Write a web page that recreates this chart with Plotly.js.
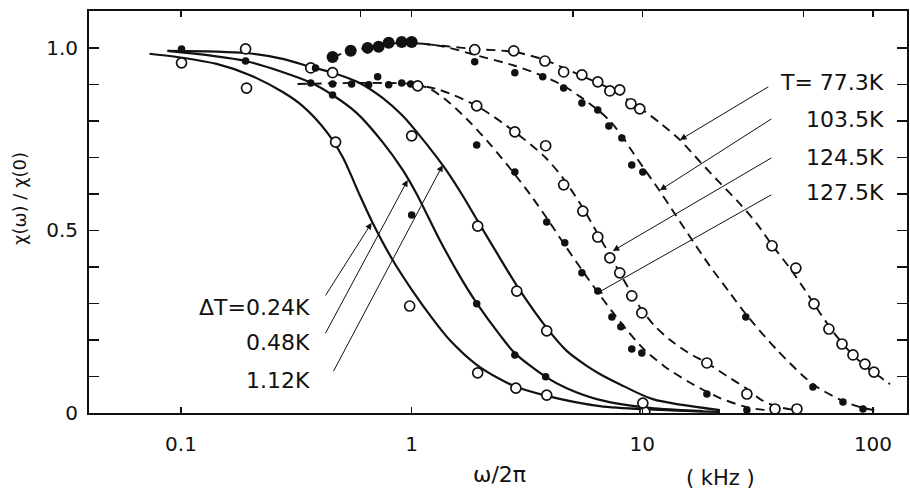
<!DOCTYPE html>
<html><head><meta charset="utf-8">
<script src="https://cdn.plot.ly/plotly-3.0.1.min.js"></script>
<style>html,body{margin:0;padding:0;background:#fff}</style>
</head><body><div id="chart" style="width:910px;height:491px"></div>
<script>
// ---- fitted curves (solid), ΔT series ----
const fit024_x = [0.073,0.1015,0.1426,0.198,0.276,0.336,0.428,0.502,0.595,0.671,0.827,1.01,1.233,1.462,1.914,2.41,2.855,3.85,6.54,21.7];
const fit024_y = [0.984,0.973,0.956,0.926,0.879,0.841,0.770,0.701,0.597,0.526,0.419,0.334,0.258,0.200,0.132,0.093,0.071,0.047,0.019,0.003];
const fit048_x = [0.0874,0.1905,0.368,0.454,0.577,0.748,0.914,1.051,1.323,1.616,1.914,2.41,2.80,3.81,4.70,6.54,10.78,18.3];
const fit048_y = [0.992,0.964,0.904,0.871,0.822,0.742,0.666,0.600,0.474,0.375,0.301,0.214,0.164,0.099,0.068,0.036,0.014,0.005];
const fit112_x = [0.0874,0.1905,0.2757,0.365,0.454,0.595,0.748,0.914,1.051,1.284,1.419,1.665,1.933,2.41,2.855,3.85,4.70,5.74,6.54,7.98,11.1,21.7];
const fit112_y = [0.992,0.986,0.970,0.948,0.932,0.904,0.863,0.814,0.770,0.701,0.663,0.595,0.526,0.425,0.349,0.233,0.170,0.129,0.107,0.079,0.038,0.008];
// ---- fitted curves (dashed), T series ----
const fit1275_x = [0.320,1.0,1.197,1.462,1.785,2.180,2.662,3.25,3.85,4.61,5.47,6.35,7.38,8.57,10.15,12.40,15.91,21.7,29.3,39.5];
const fit1275_y = [0.901,0.901,0.888,0.849,0.797,0.737,0.671,0.600,0.534,0.460,0.392,0.334,0.279,0.227,0.175,0.129,0.085,0.041,0.014,0.005];
const fit1245_x = [1.0,1.323,1.914,2.80,3.81,4.52,5.52,6.41,7.23,7.98,9.00,9.95,11.33,13.2,15.91,19.05,23.3,28.4,32.4,37.6,45.9];
const fit1245_y = [0.901,0.885,0.841,0.770,0.699,0.644,0.562,0.490,0.433,0.384,0.326,0.282,0.238,0.200,0.164,0.137,0.101,0.066,0.038,0.019,0.008];
const fit1035_x = [0.454,0.544,0.644,0.795,1.0,1.39,1.876,2.80,3.70,4.56,5.47,6.41,7.23,8.15,9.00,10.05,11.9,13.4,15.8,19.6,23.96,28.1,38.3,54.9,74.1,90.5,107.2];
const fit1035_y = [0.975,0.992,1.000,1.011,1.014,1.003,0.981,0.951,0.923,0.896,0.863,0.830,0.800,0.759,0.718,0.674,0.608,0.559,0.490,0.403,0.329,0.271,0.173,0.079,0.033,0.014,0.005];
const fit773_x = [1.0,1.39,1.876,2.77,3.78,4.56,5.47,6.41,7.60,8.92,9.75,11.9,14.55,17.8,21.7,26.5,31.4,36.5,43.6,50.7,58.9,68.4,79.5,92.3,107.2,118.5];
const fit773_y = [1.014,1.005,0.997,0.989,0.967,0.945,0.923,0.904,0.882,0.852,0.836,0.795,0.748,0.688,0.630,0.573,0.518,0.460,0.397,0.337,0.274,0.216,0.167,0.129,0.099,0.079];
// ---- measured points ----
const pt024_x = [0.1005,0.1923,0.468,0.980,1.933,2.83,3.85,10.25];
const pt024_y = [0.959,0.890,0.742,0.293,0.110,0.068,0.049,0.003];
const pt048_x = [0.1005,0.1905,0.365,0.454,1.0,1.914,2.80,3.81];
const pt048_y = [0.997,0.964,0.904,0.871,0.542,0.299,0.159,0.099];
const pt112_x = [0.1905,0.365,0.454,1.0,1.933,2.855,3.85,10.05];
const pt112_y = [0.997,0.945,0.932,0.759,0.512,0.334,0.225,0.027];
const pt1275_x = [0.383,0.454,0.549,0.651,0.712,0.795,0.905,0.99,1.914,2.80,3.85,4.61,5.47,6.41,7.38,8.07,9.00,9.95,19.05,28.4];
const pt1275_y = [0.945,0.901,0.901,0.899,0.921,0.899,0.904,0.901,0.734,0.660,0.523,0.466,0.384,0.334,0.263,0.236,0.175,0.164,0.052,0.008];
const pt1245_x = [1.062,1.914,2.80,3.81,4.56,5.52,6.41,7.23,7.98,9.00,9.95,19.05,28.4,37.6,46.8];
const pt1245_y = [0.896,0.841,0.770,0.732,0.625,0.553,0.482,0.425,0.384,0.321,0.274,0.137,0.052,0.011,0.011];
const pt1035_x = [1.876,2.80,3.70,4.56,5.47,6.41,7.16,8.15,9.00,10.05,28.1,54.9,74.1,90.5];
const pt1035_y = [0.962,0.932,0.921,0.890,0.849,0.830,0.786,0.753,0.679,0.660,0.263,0.071,0.030,0.011];
const pt773_x = [1.876,2.77,3.78,4.56,5.47,6.41,7.23,7.98,8.92,9.75,36.5,46.3,55.5,64.4,73.4,81.9,92.3,101];
const pt773_y = [0.995,0.992,0.964,0.934,0.926,0.907,0.882,0.885,0.847,0.833,0.458,0.397,0.299,0.230,0.189,0.159,0.134,0.112];
const ptLow_x = [0.454,0.544,0.644,0.719,0.795,0.905,1.0];
const ptLow_y = [0.975,0.992,1.000,1.003,1.014,1.016,1.016];
// ---- tick labels ----
const xTickVals = [0.1,1,10,100];
const xTickText = ["0.1","1","10","100"];
const xTopTickVals = [0.1,0.6,1,5,10,50,100];
const yTickVals = [0,0.1,0.2,0.3,0.4,0.5,0.6,0.7,0.8,0.9,1.0];
const yTickText = ["0","","","","","0.5","","","","","1.0"];
const tLabels = ["T= 77.3K","103.5K","124.5K","127.5K"];
const dLabels = ["ΔT=0.24K","0.48K","1.12K"];

const FONT = "DejaVu Sans, sans-serif";
const ink = "#111";
function solid(x,y){return {x:x,y:y,mode:"lines",type:"scatter",line:{color:ink,width:2.2,shape:"spline",smoothing:0.8},hoverinfo:"skip"};}
function dashed(x,y){return {x:x,y:y,mode:"lines",type:"scatter",line:{color:ink,width:1.9,dash:"9px,6px",shape:"spline",smoothing:0.8},hoverinfo:"skip"};}
function openPts(x,y){return {x:x,y:y,mode:"markers",type:"scatter",marker:{symbol:"circle",size:10,color:"#fff",line:{color:ink,width:1.7}},hoverinfo:"skip"};}
function filledPts(x,y,s){return {x:x,y:y,mode:"markers",type:"scatter",marker:{symbol:"circle",size:s||7.5,color:ink,line:{width:0}},hoverinfo:"skip"};}

const traces = [
  solid(fit024_x,fit024_y), solid(fit048_x,fit048_y), solid(fit112_x,fit112_y),
  dashed(fit1275_x,fit1275_y), dashed(fit1245_x,fit1245_y), dashed(fit1035_x,fit1035_y), dashed(fit773_x,fit773_y),
  openPts(pt024_x,pt024_y), filledPts(pt048_x,pt048_y), openPts(pt112_x,pt112_y),
  filledPts(pt1275_x,pt1275_y), openPts(pt1245_x,pt1245_y), filledPts(pt1035_x,pt1035_y), openPts(pt773_x,pt773_y),
  filledPts(ptLow_x,ptLow_y,12),
  {x:[1],y:[null],xaxis:"x2",mode:"markers",type:"scatter",hoverinfo:"skip"}
];

const annFont = {family:FONT,size:22,color:ink};
function arrow(x,y,ax,ay){return {x:x,y:y,ax:ax,ay:ay,xref:"x",yref:"y",axref:"x",ayref:"y",text:"",showarrow:true,arrowhead:2,arrowsize:1.3,arrowwidth:1,arrowcolor:ink};}
function label(t,x,y,anchor){return {x:x,y:y,xref:"x",yref:"y",text:t,showarrow:false,xanchor:anchor,yanchor:"middle",font:annFont};}

const annotations = [
  arrow(1.163,0.748,1.553,0.896),
  arrow(1.076,0.610,1.566,0.808),
  arrow(0.872,0.444,1.566,0.701),
  arrow(0.798,0.326,1.566,0.600),
  arrow(-0.1735,0.521,-0.3774,0.318),
  arrow(-0.0174,0.638,-0.3774,0.214),
  arrow(0.1345,0.679,-0.3427,0.110),
  label(tLabels[0],2.056,0.904,"right"),
  label(tLabels[1],2.056,0.805,"right"),
  label(tLabels[2],2.056,0.701,"right"),
  label(tLabels[3],2.056,0.605,"right"),
  label(dLabels[0],-0.4338,0.288,"right"),
  label(dLabels[1],-0.4338,0.192,"right"),
  label(dLabels[2],-0.4338,0.090,"right"),
  {x:0.5024,y:-0.154,xref:"paper",yref:"paper",text:"ω/2π",showarrow:false,font:annFont,yanchor:"middle"},
  {x:0.8166,y:-0.162,xref:"paper",yref:"paper",text:"( kHz )",showarrow:false,font:{family:FONT,size:21,color:ink},yanchor:"middle"},
  {x:-0.0844,y:0.535,xref:"paper",yref:"paper",text:"χ(ω) / χ(0)",textangle:-90,showarrow:false,xanchor:"center",yanchor:"middle",font:{family:FONT,size:18,color:ink}}
];

const layout = {
  width:910,height:491,
  margin:{l:89,r:3,t:11,b:78},
  paper_bgcolor:"#fff",plot_bgcolor:"#fff",
  showlegend:false,
  font:{family:FONT,color:ink},
  xaxis:{type:"log",range:[-1.399,2.1475],tickvals:xTickVals,ticktext:xTickText,ticks:"inside",ticklen:6,tickwidth:1.5,tickcolor:ink,
         showline:true,linewidth:2,linecolor:ink,mirror:true,showgrid:false,zeroline:false,tickfont:{family:FONT,size:20,color:ink},ticklabelstandoff:12},
  xaxis2:{type:"log",range:[-1.399,2.1475],overlaying:"x",side:"top",anchor:"y",tickvals:xTopTickVals,ticks:"inside",ticklen:6,tickwidth:1.5,tickcolor:ink,
          showticklabels:false,showline:false,showgrid:false,zeroline:false},
  yaxis:{range:[0,1.101],tickvals:yTickVals,ticktext:yTickText,ticks:"inside",ticklen:10,tickwidth:1.5,tickcolor:ink,
         showline:true,linewidth:2,linecolor:ink,mirror:"ticks",showgrid:false,zeroline:false,tickfont:{family:FONT,size:20,color:ink},ticklabelstandoff:5},
  annotations:annotations
};
Plotly.newPlot("chart",traces,layout,{staticPlot:true,displayModeBar:false});
</script></body></html>
